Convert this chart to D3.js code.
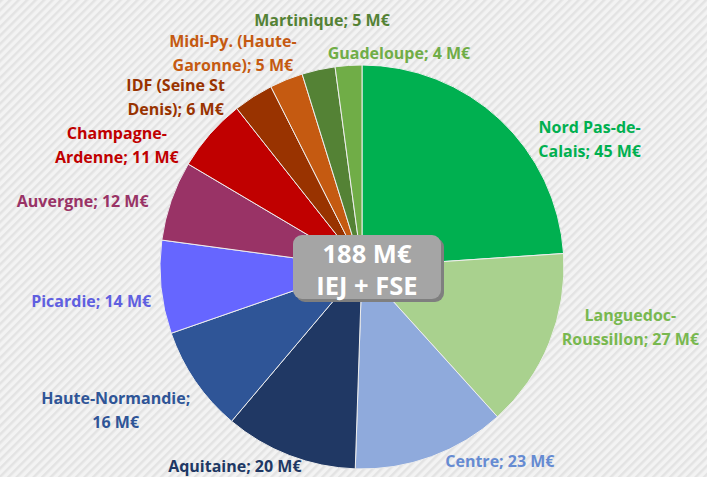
<!DOCTYPE html>
<html>
<head>
<meta charset="utf-8">
<script src="https://cdn.jsdelivr.net/npm/d3@7"></script>
<style>
  html, body { margin: 0; padding: 0; background: #f2f2f2; }
  svg { display: block; }
  text { font-family: "Open Sans", Lato, sans-serif; font-weight: bold; }
</style>
</head>
<body>
<svg id="chart" width="707" height="477"></svg>
<script>
// regions, clockwise from 12 o'clock
const regions = ["Nord Pas-de-Calais", "Languedoc-Roussillon", "Centre", "Aquitaine",
  "Haute-Normandie", "Picardie", "Auvergne", "Champagne-Ardenne",
  "IDF (Seine St Denis)", "Midi-Py. (Haute-Garonne)", "Martinique", "Guadeloupe"];
// amounts in M€
const amounts = [45, 27, 23, 20, 16, 14, 12, 11, 6, 5, 5, 4];
const sliceColors = ["#00b050", "#a9d18e", "#8faadc", "#203864", "#2f5597", "#6666ff",
  "#993366", "#c00000", "#993300", "#c55a11", "#548235", "#70ad47"];
const textColors = ["#00b050", "#78b84f", "#668bd2", "#203864", "#2f5597", "#5f5fe0",
  "#993366", "#c00000", "#993300", "#c55a11", "#548235", "#70ad47"];
// where the label wraps (first line), null = one line
const firstLines = ["Nord Pas-de-", "Languedoc-", null, null, "Haute-Normandie;", null,
  null, "Champagne-", "IDF (Seine St", "Midi-Py. (Haute-", null, null];
const totalLabel = ["188 M€", "IEJ + FSE"];

const width = 707, height = 477;
const cx = 362, cy = 267, radius = 202;

// label placement: [angle in degrees clockwise from top, distance from centre]
const labelPolar = [[60.7, 261], [102.6, 275], [144.6, 238], [212.6, 236], [239.8, 285],
  [262.8, 273], [283.3, 287], [296.5, 274], [312.3, 252], [328.9, 250], [350.8, 250], [9.8, 217]];

const svg = d3.select("#chart");

// striped background
const defs = svg.append("defs");
const pat = defs.append("pattern")
    .attr("id", "stripes")
    .attr("patternUnits", "userSpaceOnUse")
    .attr("width", 6)
    .attr("height", 6)
    .attr("patternTransform", "rotate(45)");
pat.append("rect").attr("width", 6).attr("height", 6).attr("fill", "#f3f3f3");
pat.append("rect").attr("width", 2.5).attr("height", 6).attr("fill", "#e3e3e3");

svg.append("rect")
    .attr("width", width)
    .attr("height", height)
    .attr("fill", "url(#stripes)");

const data = regions.map((r, i) => ({name: r, value: amounts[i], i: i}));

const pie = d3.pie()
    .value(d => d.value)
    .sort(null);

const arc = d3.arc()
    .innerRadius(0)
    .outerRadius(radius);

const g = svg.append("g")
    .attr("transform", `translate(${cx},${cy})`);

g.selectAll("path")
    .data(pie(data))
    .enter()
    .append("path")
    .attr("d", arc)
    .attr("fill", d => sliceColors[d.data.i])
    .attr("stroke", "#eeeeee")
    .attr("stroke-width", 1);

// labels
const labels = g.selectAll("text.lbl")
    .data(data)
    .enter()
    .append("text")
    .attr("class", "lbl")
    .attr("text-anchor", "middle")
    .attr("font-size", 16)
    .attr("fill", d => textColors[d.i])
    .attr("transform", d => {
        let a = labelPolar[d.i][0] * Math.PI / 180, r = labelPolar[d.i][1];
        return `translate(${r * Math.sin(a)},${-r * Math.cos(a)})`;
    });

labels.each(function(d) {
    let full = d.name + "; " + d.value + " M€";
    let lines = firstLines[d.i] ? [firstLines[d.i], full.slice(firstLines[d.i].length).trim()] : [full];
    let t = d3.select(this);
    lines.forEach((l, k) => {
        t.append("tspan")
            .attr("x", 0)
            .attr("y", (k - (lines.length - 1) / 2) * 24 + 6)
            .text(l);
    });
});

// centre box
const box = svg.append("g").attr("transform", "translate(293,235)");
box.append("rect")
    .attr("x", 3).attr("y", 3)
    .attr("width", 148).attr("height", 64)
    .attr("rx", 9)
    .attr("fill", "#7f7f7f");
box.append("rect")
    .attr("width", 148).attr("height", 64)
    .attr("rx", 9)
    .attr("fill", "#a5a5a5");
box.selectAll("text")
    .data(totalLabel)
    .enter()
    .append("text")
    .attr("x", 74)
    .attr("y", (d, i) => 28 + i * 32)
    .attr("text-anchor", "middle")
    .attr("font-size", 25.5)
    .attr("fill", "#ffffff")
    .text(d => d);
</script>
</body>
</html>
